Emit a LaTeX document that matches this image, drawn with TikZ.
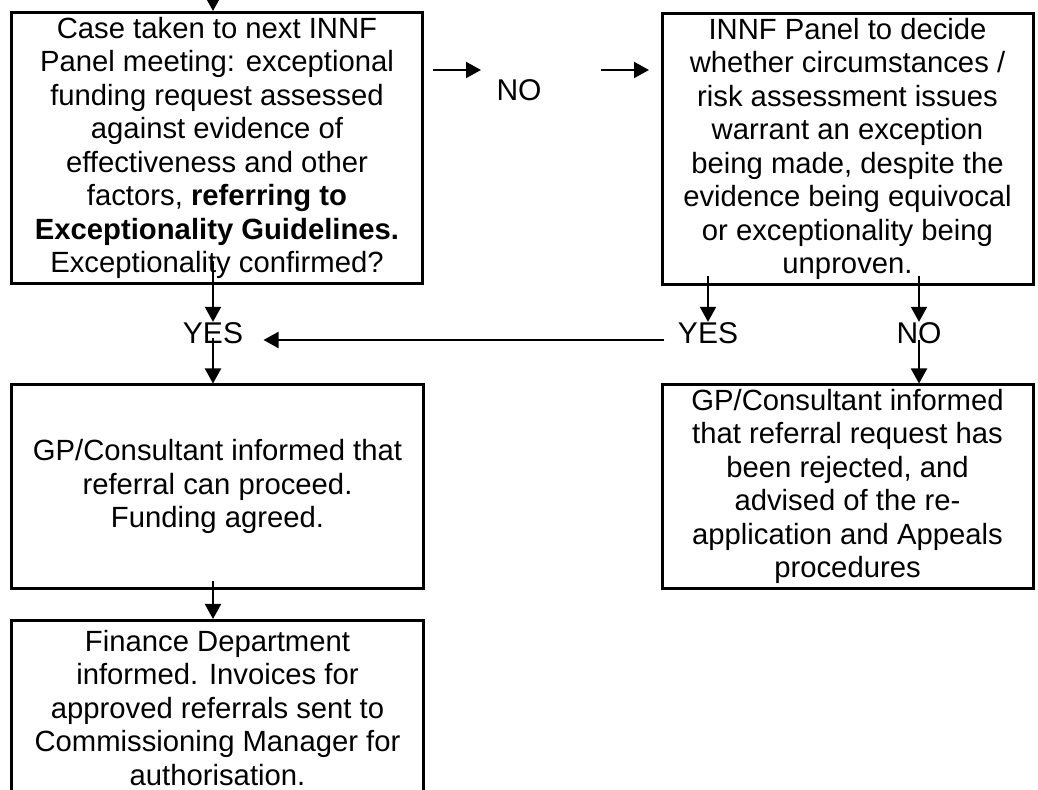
\documentclass[tikz,border=0pt]{standalone}
\usepackage{fontspec}
\setmainfont{Liberation Sans}
\usetikzlibrary{arrows.meta,calc}

\begin{document}
\begin{tikzpicture}[x=0.4pt, y=-0.4pt,
    box/.style={rectangle, draw, line width=1.2pt, align=center, inner sep=0pt, font=\fontsize{11.7}{13.4}\selectfont},
    lbl/.style={inner sep=0pt, font=\fontsize{12}{13.6}\selectfont},
    arr/.style={-{Triangle[length=6pt, width=6.4pt]}, line width=0.8pt}]
    \useasboundingbox (0,0) rectangle (1038,790);
    \clip (0,0) rectangle (1038,790);

    % Boxes
    \node[box, minimum width=164pt, minimum height=108.4pt] (Panel) at (217,148) {Case taken to next INNF\\Panel meeting: exceptional\\funding request assessed\\against evidence of\\effectiveness and other\\factors, \textbf{referring to}\\\textbf{Exceptionality Guidelines.}\\Exceptionality confirmed?};
    \node[box, minimum width=148.4pt, minimum height=108.4pt] (Decide) at (847.5,149) {INNF Panel to decide\\whether circumstances /\\risk assessment issues\\warrant an exception\\being made, despite the\\evidence being equivocal\\or exceptionality being\\unproven.};
    \node[box, minimum width=164.4pt, minimum height=81.2pt] (Proceed) at (217.5,486.5) {GP/Consultant informed that\\referral can proceed.\\Funding agreed.};
    \node[box, minimum width=148.4pt, minimum height=81.2pt] (Rejected) at (847.5,486.5) {GP/Consultant informed\\that referral request has\\been rejected, and\\advised of the re-\\application and Appeals\\procedures};
    \node[box, minimum width=164.4pt, minimum height=70pt] (Finance) at (217.5,708) {Finance Department\\informed. Invoices for\\approved referrals sent to\\Commissioning Manager for\\authorisation.};

    % Labels
    \node[lbl] (NoTop) at (519,90) {NO};
    \node[lbl] (YesLeft) at (213,333) {YES};
    \node[lbl] (YesRight) at (708,333) {YES};
    \node[lbl] (NoRight) at (919,333) {NO};
    \coordinate (Entry) at (213,0);

    % Arrows
    \draw[arr] (Entry) -- (Entry |- Panel.north);
    \draw[arr] ([xshift=-25.2pt, yshift=8pt]NoTop.west) -- ([xshift=-6pt, yshift=8pt]NoTop.west);
    \draw[arr] ([xshift=23.6pt, yshift=8pt]NoTop.east) -- ([xshift=42.8pt, yshift=8pt]NoTop.east);
    \draw[arr] ($(YesLeft |- Panel.south)+(0,-24)$) -- (YesLeft.north);
    \draw[arr] ($(YesLeft.center)+(0,5)$) -- (YesLeft |- Proceed.north);
    \draw[arr] ([xshift=-5.2pt, yshift=-2.8pt]YesRight.west) -- ([xshift=8pt, yshift=-2.8pt]YesLeft.east);
    \draw[arr] ($(YesRight |- Decide.south)+(0,-10)$) -- (YesRight.north);
    \draw[arr] ($(NoRight |- Decide.south)+(0,-10)$) -- (NoRight.north);
    \draw[arr] ($(NoRight.center)+(0,7)$) -- (NoRight |- Rejected.north);
    \draw[arr] ($(YesLeft |- Proceed.south)+(0,-8)$) -- (YesLeft |- Finance.north);
\end{tikzpicture}
\end{document}
